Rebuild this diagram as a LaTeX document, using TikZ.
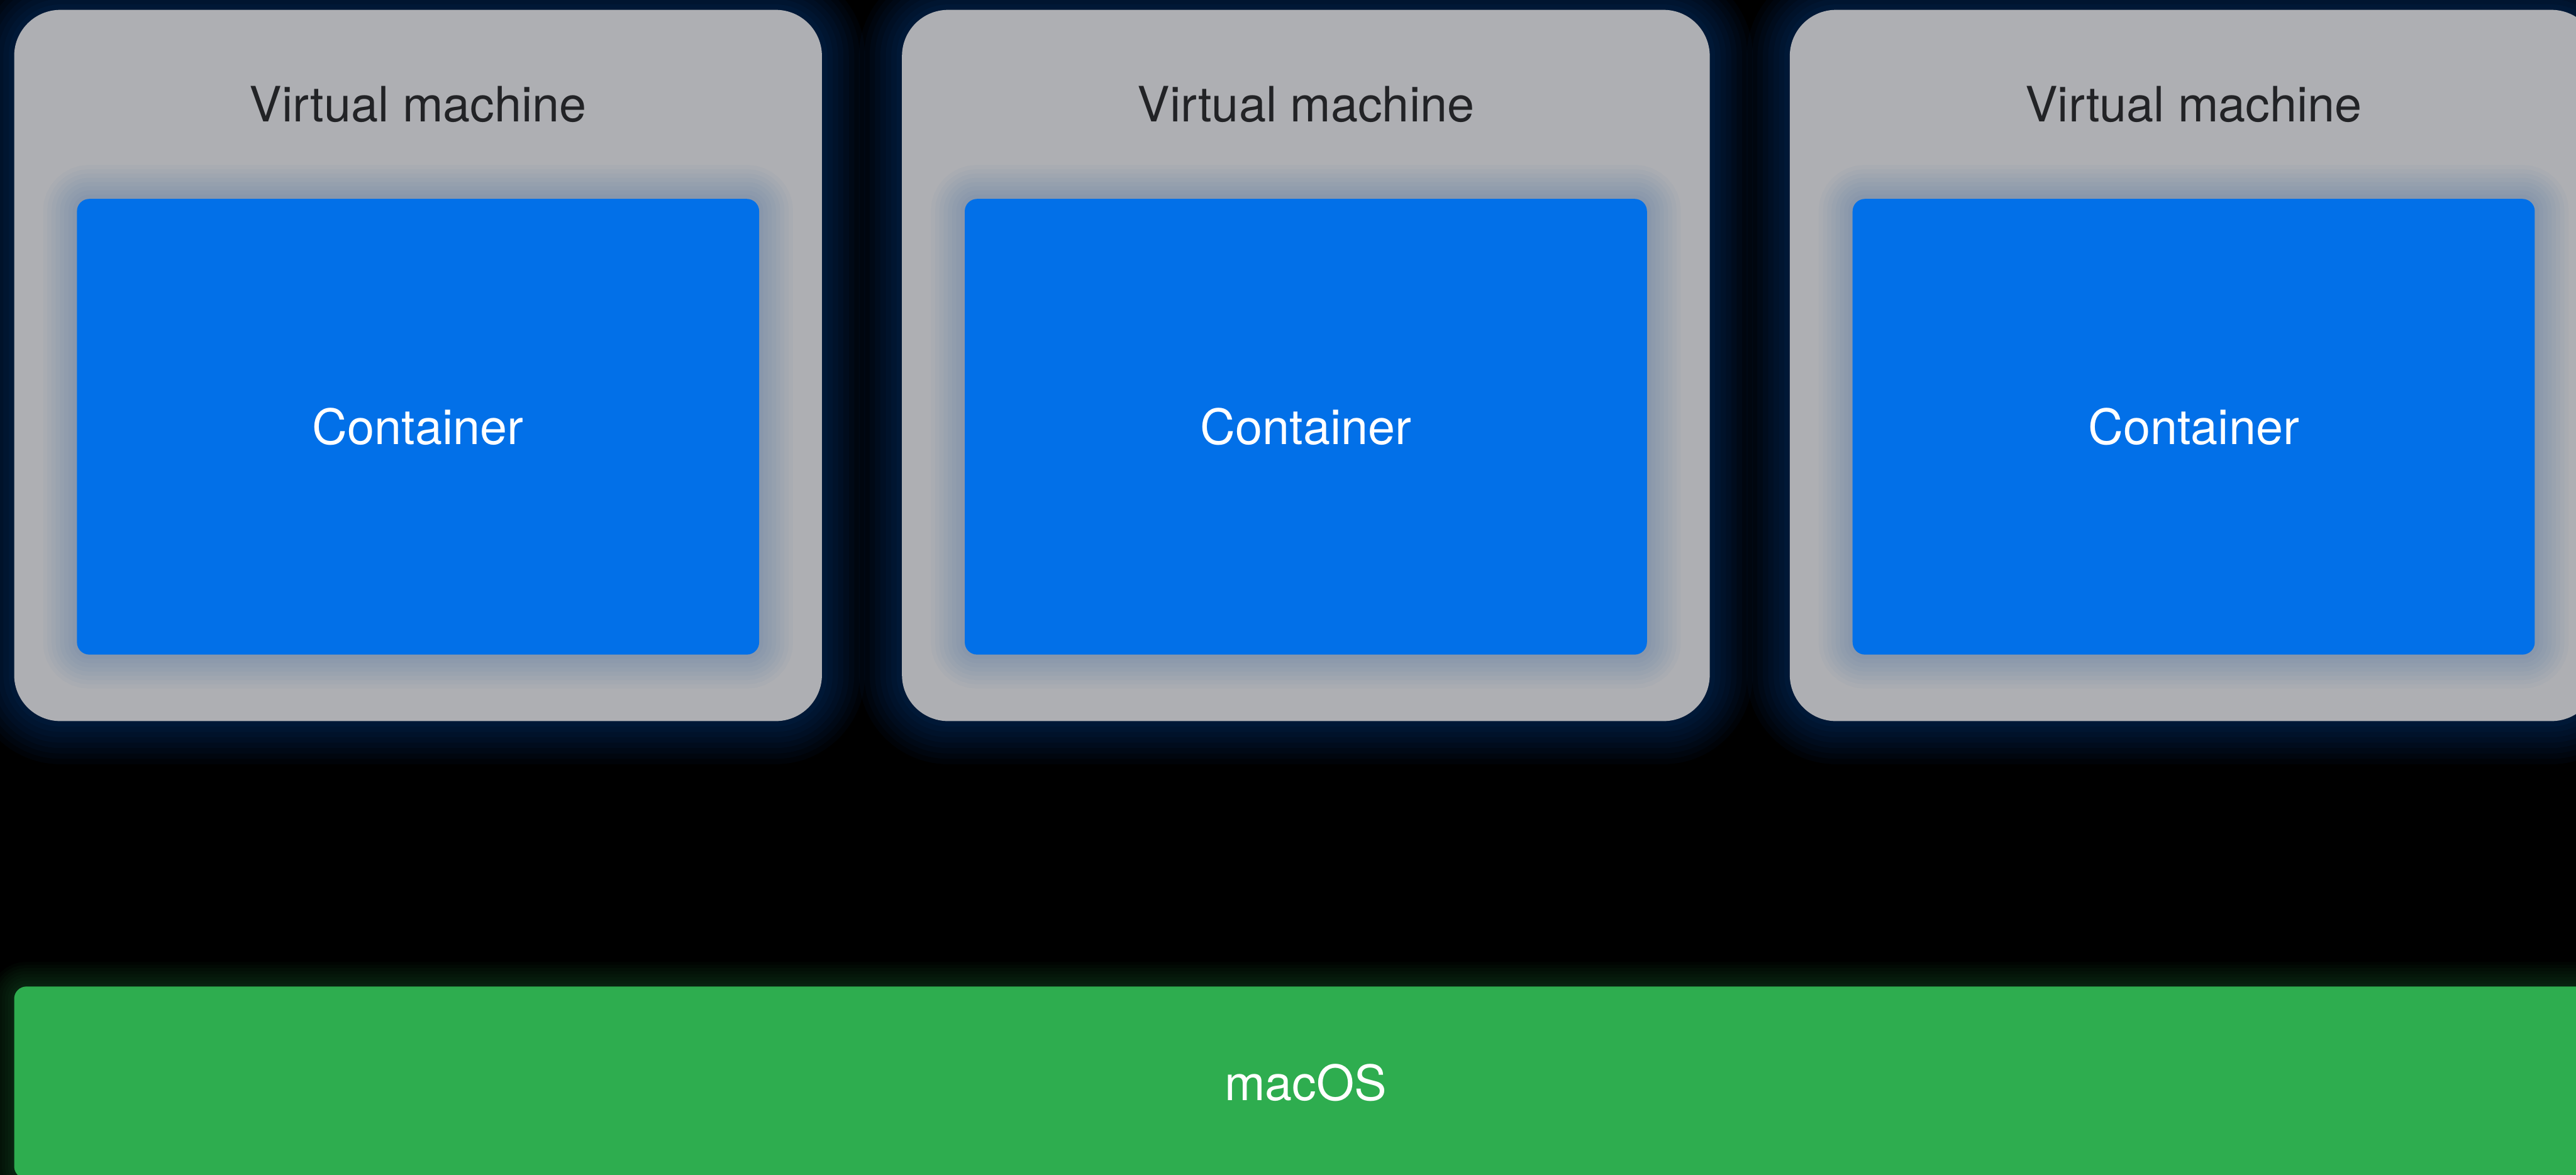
\documentclass[tikz,border=0pt]{standalone}
\usepackage{fontspec}
\setmainfont{TeX Gyre Heros}
\usepackage{tikz}
\usetikzlibrary{positioning}
\definecolor{vmgray}{RGB}{174,175,179}
\definecolor{vmtext}{RGB}{34,35,38}
\definecolor{ctblue}{RGB}{2,112,232}
\definecolor{ctshade}{RGB}{40,95,170}
\definecolor{osgreen}{RGB}{46,173,79}
\tikzset{
  glow/.style n args={3}{
    preaction={draw=#1, draw opacity=#3, line width=#2},
    preaction={draw=#1, draw opacity=#3, line width=0.875*#2},
    preaction={draw=#1, draw opacity=#3, line width=0.75*#2},
    preaction={draw=#1, draw opacity=#3, line width=0.625*#2},
    preaction={draw=#1, draw opacity=#3, line width=0.5*#2},
    preaction={draw=#1, draw opacity=#3, line width=0.375*#2},
    preaction={draw=#1, draw opacity=#3, line width=0.25*#2},
    preaction={draw=#1, draw opacity=#3, line width=0.125*#2}},
  vmbox/.style={fill=vmgray, rounded corners=7.5mm, inner sep=0pt,
    minimum width=131.2mm, minimum height=115.5mm, glow={ctblue}{14mm}{0.035}},
  vmlabel/.style={text=vmtext, inner sep=0pt, font=\fontsize{22.5pt}{27pt}\selectfont},
  ctbox/.style={fill=ctblue, rounded corners=2mm, inner sep=0pt, text=white,
    minimum width=110.8mm, minimum height=74mm, font=\fontsize{22.5pt}{27pt}\selectfont,
    glow={ctshade}{11mm}{0.036}},
  osbox/.style={fill=osgreen, rounded corners=2mm, inner sep=0pt, text=white,
    minimum width=419.6mm, minimum height=31.2mm, font=\fontsize{22.5pt}{27pt}\selectfont,
    glow={osgreen}{8mm}{0.03}}
}
\begin{document}
\begin{tikzpicture}[x=1mm,y=-1mm]
  \useasboundingbox (0,0) rectangle (418.4,190.8);
  \clip (0,0) rectangle (418.4,190.8);
  \fill[black] (0,0) rectangle (418.4,190.8);
  % three guests
  \foreach \i/\xx in {1/67.9, 2/212.1, 3/356.3} {
    \node[vmbox] (vm\i) at (\xx,59.35) {};
    \node[vmlabel, anchor=base] (vmlab\i) at ([yshift=-18.2mm]vm\i.north) {Virtual machine};
    \node[ctbox, below=30.7mm of vm\i.north] (ct\i) {Container};
  }
  % host
  \node[osbox] (macos) at (212.1,175.8) {macOS};
\end{tikzpicture}
\end{document}
